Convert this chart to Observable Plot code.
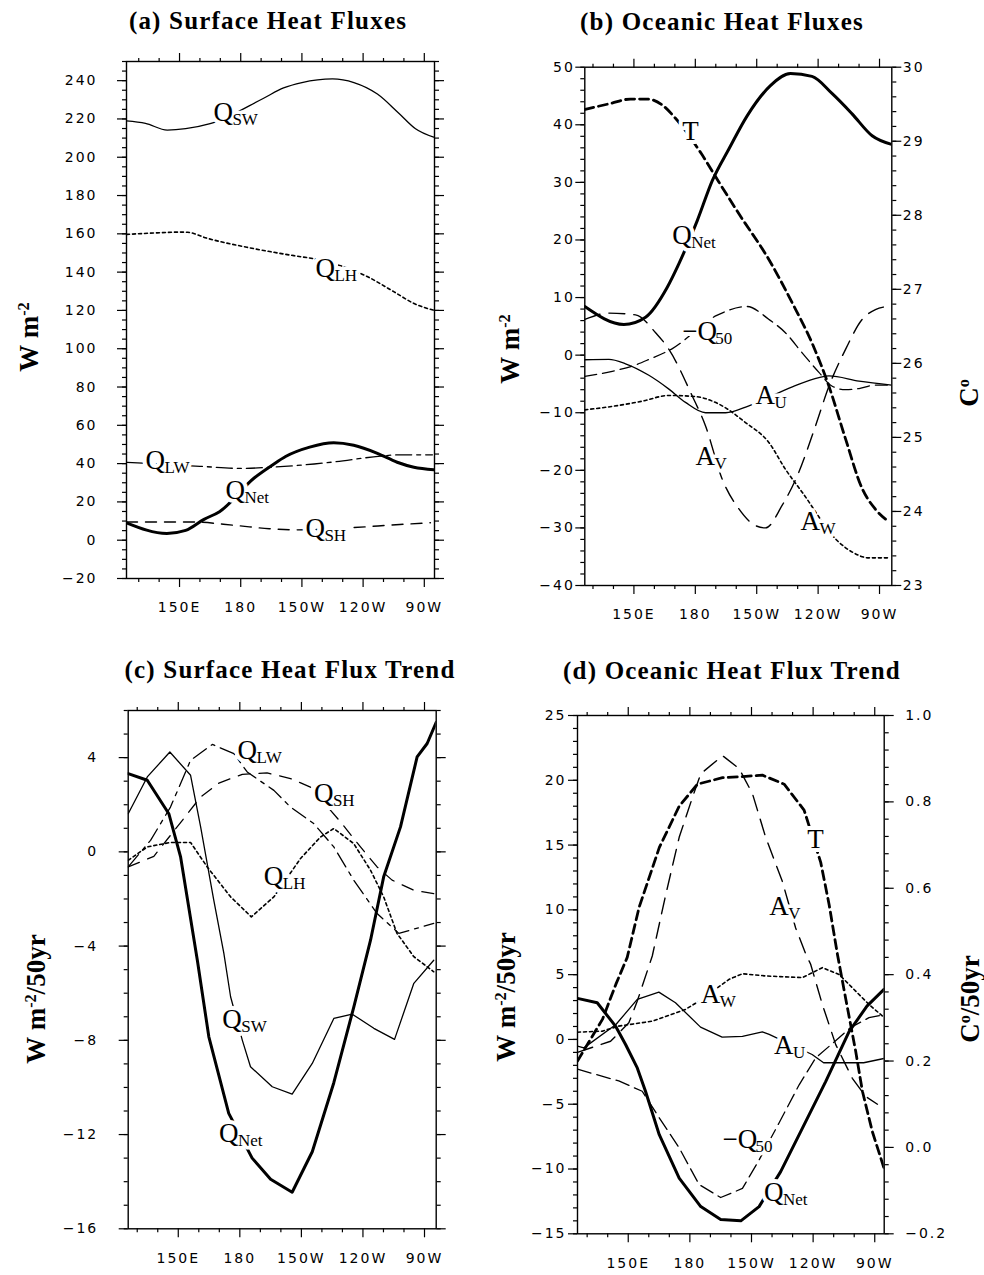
<!DOCTYPE html>
<html><head><meta charset="utf-8">
<script src="https://cdn.jsdelivr.net/npm/d3@7"></script>
<script src="https://cdn.jsdelivr.net/npm/@observablehq/plot@0.6"></script>
<style>
body{margin:0;background:#fff;}
#root{position:relative;width:984px;height:1275px;overflow:hidden;background:#fff;}
.title{position:absolute;transform:translate(-50%,-50%);font-family:"Liberation Serif","Times New Roman",serif;font-weight:bold;font-size:25px;letter-spacing:1.2px;white-space:nowrap;line-height:1;}
.ylab{position:absolute;transform:translate(-50%,-50%) rotate(-90deg);font-family:"Liberation Serif","Times New Roman",serif;font-weight:bold;font-size:27px;white-space:nowrap;line-height:1;}
.ylab sup{font-size:0.6em;vertical-align:0.55em;}
svg [aria-label="y-axis tick label"] text, svg [aria-label="x-axis tick label"] text{letter-spacing:2px;}
</style>
</head><body>
<div id="root"></div>
<script>
// ---------- shared axis values ----------
const lonMajor = [150, 180, 210, 240, 270];
const lonMajorLabels = ["150E", "180", "150W", "120W", "90W"];
const lonMinor = [130, 140, 160, 170, 190, 200, 220, 230, 250, 260];

// ---------- (a) Surface Heat Fluxes : [lon (deg E), W m-2] ----------
const aQSW  = [[124,219],[133.3,217.7],[144,214.2],[153,214.9],[165,217.5],[191,230.7],[201,236.2],[210,239],[225,240.9],[235.5,239],[247,233],[257.5,223],[265.7,214.9],[274.6,210.5]];
const aQLH  = [[124,159.7],[139,160.5],[150,160.9],[154,160.8],[163.5,157.7],[183,153],[206,148.6],[216.6,146.8],[242,137.7],[255,129.8],[265,123.6],[274.6,120.1]];
const aQLW  = [[124,40.7],[160,38.6],[180,37.5],[193,38],[216,39.8],[226,40.9],[248.5,43.9],[258,44.6],[274,44.6]];
const aQNet = [[124,9.1],[143.8,3.5],[153,5.1],[162,10.9],[169.6,14.9],[186.6,32.5],[195.6,39.3],[202,43.7],[213.8,48.6],[225.6,50.9],[235.4,49.6],[247,45.4],[256.7,40.7],[264.9,38.1],[274.7,36.8]];
const aQSH  = [[124,9.5],[156.4,9.5],[177.6,7.7],[194,6],[206.9,5.4],[233.8,6.5],[258,8.2],[273,9.1]];
const aLabels = [
  {lon:166.6, val:219.1, main:"Q", sub:"SW"},
  {lon:216.6, val:137.3, main:"Q", sub:"LH"},
  {lon:133.3, val:37.2,  main:"Q", sub:"LW"},
  {lon:172.5, val:21.6,  main:"Q", sub:"Net"},
  {lon:211.7, val:1.5,   main:"Q", sub:"SH"}
];

// ---------- (b) Oceanic Heat Fluxes : W m-2, T in degC ----------
const bQNet = [[126,8.45],[145.1,5.33],[155.7,6.6],[166.3,11.8],[172,15.9],[181,23.4],[188.3,30.3],[196.4,35.8],[205.4,41.6],[216.7,46.8],[226.5,48.9],[237,48.4],[246.9,45.4],[256.6,41.9],[266.4,38.1],[275.9,36.6]];
const bT    = [[126,29.43],[138.6,29.51],[148.3,29.57],[156.5,29.57],[163.8,29.49],[170.3,29.31],[183,28.83],[191.5,28.45],[201.3,28.02],[216,27.40],[227.3,26.82],[237.1,26.27],[245.3,25.69],[253.4,24.98],[261.5,24.31],[268,24.03],[274.6,23.86]];
const bMQ50 = [[126,-3.7],[139.4,-2.8],[149.2,-1.9],[157.3,-0.75],[168.6,1.1],[190.5,6.9],[205.2,8.45],[216,6.2],[224,3.9],[232.2,0.4],[240.4,-3],[246.9,-5.4],[253.4,-6],[260,-5.8],[268,-5.2],[275.9,-5.2]];
const bAU   = [[126,-0.8],[137.8,-0.75],[145.9,-1.5],[157.3,-3.5],[167.1,-5.9],[175.2,-8.2],[185,-10],[194.8,-10],[206.2,-8.8],[227.4,-5.5],[240.4,-3.9],[245.3,-3.6],[260,-4.5],[275.9,-5.2]];
const bAV   = [[126,6.2],[137.8,7.3],[150.8,7.0],[160.6,3.9],[167.1,1.0],[178.5,-7.1],[185,-12.3],[193.1,-21.5],[201.3,-26.7],[209.4,-29.6],[214.3,-30],[222.4,-26.1],[230.6,-20.3],[238.7,-12.3],[245.3,-5.4],[253.4,1.0],[261.5,6.2],[268,7.9],[274.6,8.5]];
const bAW   = [[126,-9.5],[139.4,-8.9],[154,-8],[167.1,-7],[180.1,-7.2],[191.5,-8.5],[204.5,-11.7],[216,-15.2],[224,-19.8],[232.2,-23.8],[250.2,-32.5],[256.7,-34.2],[264.8,-35.2],[274.6,-35.2]];
const bLabels = [
  {lon:173.6, val:37.3,  main:"T",  sub:""},
  {lon:168.7, val:19.3,  main:"Q",  sub:"Net"},
  {lon:173.6, val:2.7,   main:"\u2212Q", sub:"50"},
  {lon:209.4, val:-8.4,  main:"A",  sub:"U"},
  {lon:180.1, val:-19.1, main:"A",  sub:"V"},
  {lon:231.4, val:-30.4, main:"A",  sub:"W"}
];

// ---------- (c) Surface Heat Flux Trend : W m-2 / 50yr ----------
const cQNet = [[125.6,3.32],[134.9,3.04],[145.4,1.62],[151.1,-0.2],[159.3,-4.6],[164.9,-7.85],[174.6,-11.1],[186,-13.0],[195,-13.9],[205.5,-14.45],[215.3,-12.73],[225.8,-9.8],[235.5,-6.6],[243.7,-3.75],[250.1,-1.06],[258.3,1.06],[266.4,4.03],[271.3,4.6],[275.7,5.5]];
const cQSW  = [[125.6,1.62],[134.9,3.18],[145.9,4.24],[156,3.25],[160.9,1.06],[167.3,-2.05],[172.2,-4.3],[175.5,-6.15],[181.2,-7.99],[185.2,-9.12],[195.8,-9.97],[205.5,-10.28],[215.3,-8.98],[225.8,-7.07],[234.8,-6.89],[245.3,-7.49],[255.4,-7.96],[264.8,-5.58],[274.5,-4.6]];
const cQLW  = [[125.6,-0.64],[136.5,0.49],[146.2,1.9],[156,3.89],[166.6,4.56],[177.1,4.17],[183.6,3.39],[196.6,2.61],[204.7,1.9],[216,1.2],[225.8,0.21],[235.5,-1.2],[246.9,-2.62],[257.5,-3.46],[274.5,-3.04]];
const cQSH  = [[125.6,-0.64],[138.1,-0.19],[152,1.34],[160.9,2.33],[169.8,2.92],[181.2,3.29],[193.3,3.35],[204.7,3.11],[214.4,2.75],[229.1,1.27],[238.8,0.21],[246.9,-0.64],[254.2,-1.2],[264.8,-1.63],[274.5,-1.77]];
const cQLH  = [[125.6,-0.36],[134.9,0.21],[146.2,0.4],[156,0.4],[164.1,-0.64],[175.5,-1.91],[185.6,-2.76],[196.6,-1.91],[209.6,-0.28],[219.3,0.63],[225.8,0.99],[235.5,0.35],[243.7,-0.78],[250.1,-1.91],[256.6,-3.46],[264.8,-4.45],[274.5,-5.09]];
const cLabels = [
  {lon:178.9, val:3.96,  main:"Q", sub:"LW"},
  {lon:216.1, val:2.12,  main:"Q", sub:"SH"},
  {lon:191.7, val:-1.42, main:"Q", sub:"LH"},
  {lon:171.4, val:-7.49, main:"Q", sub:"SW"},
  {lon:169.8, val:-12.3, main:"Q", sub:"Net"}
];

// ---------- (d) Oceanic Heat Flux Trend : W m-2 / 50yr, T in degC / 50yr ----------
const dQNet = [[125.3,3.17],[134.9,2.83],[143.8,1.03],[148.7,-0.39],[154.4,-2.2],[158.4,-4.0],[165.1,-7.35],[174.8,-10.7],[185.3,-12.9],[195,-13.9],[204.8,-14],[213.7,-12.9],[224.2,-10.2],[234.8,-6.85],[246.1,-3.25],[257.5,0.6],[266.2,2.57],[274.5,3.86]];
const dT    = [[125.3,0.20],[137.5,0.297],[144,0.378],[149.5,0.44],[155.3,0.556],[165.1,0.694],[174.8,0.79],[183.7,0.841],[195.9,0.856],[207.2,0.859],[215.3,0.862],[225.9,0.841],[235.6,0.781],[243.7,0.66],[247.8,0.562],[251.8,0.448],[255.8,0.346],[260.7,0.223],[264,0.13],[268.8,0.037],[274.5,-0.048]];
const dAV   = [[125.3,-1.0],[141.4,-0.14],[150.3,1.28],[154.4,2.96],[161.7,6.44],[168.3,11.2],[174.8,15.6],[181.3,18.7],[185.3,20.5],[195.9,21.9],[204,20.9],[210.5,18.95],[216.9,15.6],[225,12.2],[231.5,8.6],[236.4,6.6],[238.8,5.8],[244.5,2.7],[251,-0.4],[259.1,-3.0],[265.6,-4.4],[271.3,-5.0]];
const dAW   = [[125.3,0.56],[137.4,0.64],[145.4,1.03],[161.7,1.41],[177.9,2.32],[184.5,2.96],[199.1,4.64],[205.6,5.07],[216.9,4.9],[234.8,4.77],[244.5,5.54],[252.6,5.02],[260.7,3.73],[267.2,2.7],[274.5,1.7]];
const dAU   = [[125.3,-0.52],[128.4,-0.65],[144,1.15],[154.4,3.09],[164.9,3.65],[173,2.83],[185.2,0.95],[195.7,0.18],[205.6,0.23],[215.3,0.59],[218.6,0.39],[239.5,-1.16],[245.1,-1.8],[264.6,-1.8],[274.5,-1.47]];
const dMQ50 = [[125.3,-2.3],[134.1,-2.7],[145.4,-3.2],[156.8,-4.0],[165.1,-6.05],[174.8,-8.37],[184.5,-11.2],[195,-12.2],[205.6,-11.5],[213.7,-9.3],[223.4,-6.45],[233.2,-3.5],[241.3,-1.42],[252.6,0.13],[258.1,0.9],[267.2,1.68],[274.5,1.9]];
const dLabels = [
  {lon:237.2, val:14.8,  main:"T",  sub:""},
  {lon:218.6, val:9.6,   main:"A",  sub:"V"},
  {lon:185.3, val:2.83,  main:"A",  sub:"W"},
  {lon:221,   val:-1.12, main:"A",  sub:"U"},
  {lon:195.9, val:-8.39, main:"\u2212Q", sub:"50"},
  {lon:216.1, val:-12.5, main:"Q",  sub:"Net"}
];

// ---------- right-axis (temperature) ticks ----------
const bTempTicks = [23, 24, 25, 26, 27, 28, 29, 30];
const dTempTicks = [-0.2, 0.0, 0.2, 0.4, 0.6, 0.8, 1.0];

// ---------- helpers ----------
const minus = v => v < 0 ? "\u2212" + Math.abs(v) : String(v);
const tB = t => (t - 23) * 90 / 7 - 40;          // degC -> left scale of (b)
const tBinv = v => (v + 40) * 7 / 90 + 23;
const tD = t => (t + 0.2) / 1.2 * 40 - 15;       // degC/50yr -> left scale of (d)
const tDinv = v => (v + 15) * 1.2 / 40 - 0.2;
const fmtD = v => { const t = Math.round(tDinv(v) * 10) / 10; return (t < 0 ? "\u2212" : "") + Math.abs(t).toFixed(1); };
const blank = () => "";

const subDx = {"Q": 19, "A": 19, "\u2212Q": 33, "T": 0};

function makePanel(p) {
  const marks = [];
  for (const s of p.series) {
    marks.push(Plot.line(s.data, {
      x: d => d[0], y: d => (s.map ? s.map(d[1]) : d[1]),
      stroke: "black", strokeWidth: s.w, strokeDasharray: s.dash,
      curve: p.curve, clip: true
    }));
  }
  // label halos (break the lines under the labels), then the labels
  const mainOpt = {x: "lon", y: "val", text: "main", textAnchor: "start", lineAnchor: "bottom",
                   fontFamily: "Liberation Serif, Times New Roman, serif", fontSize: 27};
  marks.push(Plot.text(p.labels, {...mainOpt, fill: "white", stroke: "white", strokeWidth: 8}));
  for (const m of Object.keys(subDx)) {
    const L = p.labels.filter(l => l.main === m && l.sub);
    if (!L.length) continue;
    marks.push(Plot.text(L, {x: "lon", y: "val", text: "sub", dx: subDx[m], dy: 4, textAnchor: "start", lineAnchor: "bottom",
      fontFamily: "Liberation Serif, Times New Roman, serif", fontSize: 17, fill: "white", stroke: "white", strokeWidth: 7}));
  }
  marks.push(Plot.text(p.labels, {...mainOpt, fill: "black"}));
  for (const m of Object.keys(subDx)) {
    const L = p.labels.filter(l => l.main === m && l.sub);
    if (!L.length) continue;
    marks.push(Plot.text(L, {x: "lon", y: "val", text: "sub", dx: subDx[m], dy: 4, textAnchor: "start", lineAnchor: "bottom",
      fontFamily: "Liberation Serif, Times New Roman, serif", fontSize: 17, fill: "black"}));
  }
  // axes
  const tk = {strokeWidth: 1.2, label: null};
  marks.push(Plot.axisX(lonMajor, {...tk, anchor: "bottom", tickSize: 9, tickPadding: 15,
    tickFormat: (d, i) => lonMajorLabels[lonMajor.indexOf(d)]}));
  marks.push(Plot.axisX(lonMinor, {...tk, anchor: "bottom", tickSize: 4, tickFormat: blank}));
  marks.push(Plot.axisX(lonMajor, {...tk, anchor: "top", tickSize: 9, tickFormat: blank}));
  marks.push(Plot.axisX(lonMinor, {...tk, anchor: "top", tickSize: 4, tickFormat: blank}));
  marks.push(Plot.axisY(p.leftMajor, {...tk, anchor: "left", tickSize: 9, tickPadding: p.leftPad, tickFormat: minus}));
  marks.push(Plot.axisY(p.leftMinor, {...tk, anchor: "left", tickSize: 4, tickFormat: blank}));
  marks.push(Plot.axisY(p.rightMajor, {...tk, anchor: "right", tickSize: 9, tickPadding: p.rightPad || 3, tickFormat: p.rightFormat || blank}));
  marks.push(Plot.axisY(p.rightMinor, {...tk, anchor: "right", tickSize: 4, tickFormat: blank}));
  marks.push(Plot.frame({stroke: "black", strokeWidth: 1.4}));

  const svg = Plot.plot({
    width: p.width, height: p.height,
    marginTop: p.margin[0], marginRight: p.margin[1], marginBottom: p.margin[2], marginLeft: p.margin[3],
    x: {domain: p.xDomain, axis: null},
    y: {domain: p.yDomain, axis: null},
    style: {fontFamily: "DejaVu Sans, sans-serif", fontSize: "14px", color: "black", background: "transparent", overflow: "visible"},
    marks
  });
  svg.style.position = "absolute";
  svg.style.left = p.left + "px";
  svg.style.top = p.top + "px";
  document.getElementById("root").appendChild(svg);
}

const rng = (a, b, s) => d3.range(0, Math.round((b - a) / s) + 1).map(i => +(a + i * s).toFixed(4));

makePanel({
  left: 0, top: 0, width: 492, height: 640, margin: [61, 58, 62, 126],
  xDomain: [124, 275], yDomain: [-20, 250], curve: "monotone-x",
  leftMajor: rng(-20, 240, 20), leftMinor: rng(-20, 250, 5), leftPad: 20,
  rightMajor: rng(-20, 240, 20), rightMinor: rng(-20, 250, 5),
  series: [
    {data: aQSW, w: 1.3},
    {data: aQLH, w: 1.6, dash: "3,3"},
    {data: aQLW, w: 1.3, dash: "16,5,4,5"},
    {data: aQNet, w: 3},
    {data: aQSH, w: 1.4, dash: "11,8"}
  ],
  labels: aLabels
});

makePanel({
  left: 492, top: 0, width: 492, height: 640, margin: [66.7, 92.7, 55, 92.3],
  xDomain: [126, 276], yDomain: [-40, 50], curve: "monotone-x",
  leftMajor: rng(-40, 50, 10), leftMinor: rng(-40, 50, 2), leftPad: 1,
  rightMajor: bTempTicks.map(tB), rightMinor: rng(23, 30, 0.2).map(tB), rightPad: 2,
  rightFormat: v => String(Math.round(tBinv(v))),
  series: [
    {data: bQNet, w: 3},
    {data: bT, w: 2.8, dash: "9,5", map: tB},
    {data: bMQ50, w: 1.3, dash: "12,6"},
    {data: bAU, w: 1.3},
    {data: bAV, w: 1.4, dash: "16,9"},
    {data: bAW, w: 1.6, dash: "3,3"}
  ],
  labels: bLabels
});

makePanel({
  left: 0, top: 640, width: 492, height: 635, margin: [70, 56.3, 46.7, 127.7],
  xDomain: [125.6, 275.7], yDomain: [-16, 6], curve: "linear",
  leftMajor: rng(-16, 4, 4), leftMinor: rng(-16, 6, 1), leftPad: 21,
  rightMajor: rng(-16, 4, 4), rightMinor: rng(-16, 6, 1),
  series: [
    {data: cQNet, w: 3},
    {data: cQSW, w: 1.3},
    {data: cQLW, w: 1.3, dash: "16,6,4,6"},
    {data: cQSH, w: 1.3, dash: "12,9"},
    {data: cQLH, w: 1.6, dash: "3,3"}
  ],
  labels: cLabels
});

makePanel({
  left: 492, top: 640, width: 492, height: 635, margin: [75, 100.3, 41.7, 85],
  xDomain: [125.3, 274.6], yDomain: [-15, 25], curve: "linear",
  leftMajor: rng(-15, 25, 5), leftMinor: rng(-15, 25, 1), leftPad: 2,
  rightMajor: dTempTicks.map(tD), rightMinor: rng(-0.2, 1.0, 0.04).map(tD), rightPad: 12,
  rightFormat: fmtD,
  series: [
    {data: dQNet, w: 3},
    {data: dT, w: 2.8, dash: "9,5", map: tD},
    {data: dAV, w: 1.4, dash: "16,9"},
    {data: dAW, w: 1.6, dash: "3,3"},
    {data: dAU, w: 1.3},
    {data: dMQ50, w: 1.3, dash: "14,6"}
  ],
  labels: dLabels
});

// ---------- titles and axis titles ----------
const root = document.getElementById("root");
function addDiv(cls, html, x, y) {
  const d = document.createElement("div");
  d.className = cls; d.innerHTML = html;
  d.style.left = x + "px"; d.style.top = y + "px";
  root.appendChild(d);
}
addDiv("title", "(a) Surface Heat Fluxes", 268, 20);
addDiv("title", "(b) Oceanic Heat Fluxes", 722, 21);
addDiv("title", "(c) Surface Heat Flux Trend", 290, 669);
addDiv("title", "(d) Oceanic Heat Flux Trend", 732, 670);
addDiv("ylab", "W m<sup>-2</sup>", 29, 337);
addDiv("ylab", "W m<sup>-2</sup>", 510, 349);
addDiv("ylab", "C<sup>o</sup>", 969, 393);
addDiv("ylab", "W m<sup>-2</sup>/50yr", 36, 999);
addDiv("ylab", "W m<sup>-2</sup>/50yr", 506, 997);
addDiv("ylab", "C<sup>o</sup>/50yr", 970, 999);
</script>
</body></html>
